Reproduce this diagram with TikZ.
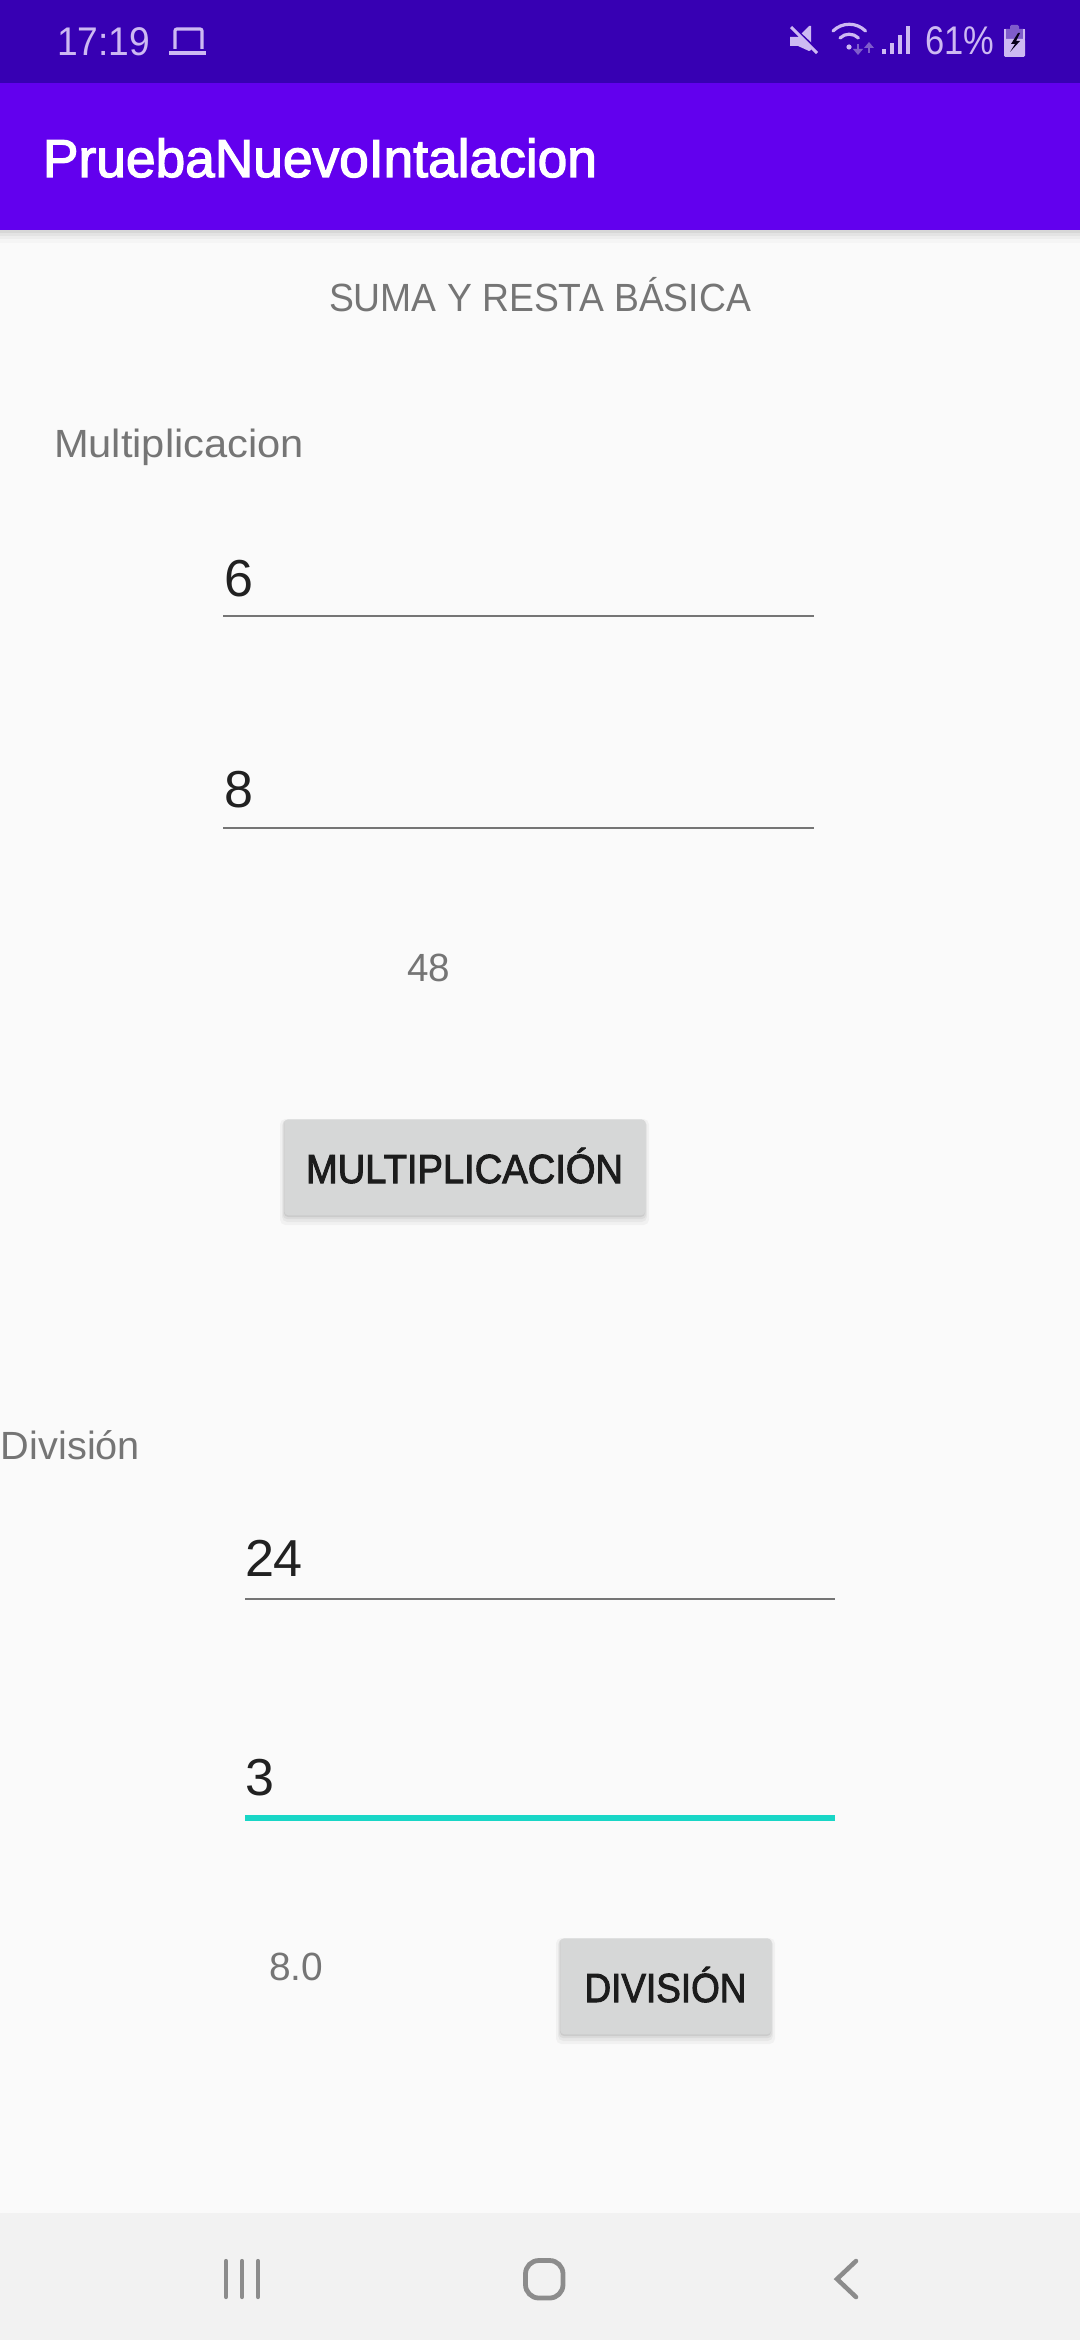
\documentclass[tikz,border=0pt]{standalone}
\usepackage{fontspec}
\setmainfont{Liberation Sans}
\newfontfamily\medfont[FakeBold=2.4]{Liberation Sans}
\newfontfamily\regfont{Liberation Sans}
\newcommand{\fitw}[2]{\resizebox{\dimexpr#1pt*3/4\relax}{\height}{#2}}
\definecolor{statusbar}{HTML}{3700B3}
\definecolor{appbar}{HTML}{6200EE}
\definecolor{page}{HTML}{FAFAFA}
\definecolor{navbar}{HTML}{F2F2F2}
\definecolor{navicon}{HTML}{8C8C8C}
\definecolor{hint}{HTML}{757575}
\definecolor{ink}{HTML}{212121}
\definecolor{btn}{HTML}{D6D7D7}
\definecolor{btnink}{HTML}{1C1C1C}
\definecolor{teal}{HTML}{18D6C6}
\definecolor{stat}{HTML}{CDB9F2}
\definecolor{statdim}{HTML}{7F5CCB}
\tikzset{
  x=0.75pt,y=-0.75pt,
  lbl/.style={inner sep=0pt,outer sep=0pt,anchor=base west},
  title/.style={lbl,text=white,font={\fontsize{40}{46}\medfont}},
  statustext/.style={lbl,text=stat,font={\fontsize{30}{36}\regfont}},
  caption/.style={lbl,text=hint,font={\fontsize{29.5}{36}\regfont}},
  smallcaption/.style={lbl,text=hint,font={\fontsize{29.5}{36}\regfont}},
  field/.style={lbl,text=ink,font={\fontsize{39}{46}\regfont}},
  btnbox/.style={fill=btn,rounded corners=3pt,draw=none},
  btntext/.style={lbl,text=btnink,font={\fontsize{30.5}{36}\medfont}},
  rule/.style={draw=hint,line width=2pt},
  activerule/.style={draw=teal,line width=4pt},
  navline/.style={draw=navicon,line cap=round,line join=round,line width=3.2pt},
  stline/.style={draw=stat,line width=2.4pt},
}
\newcommand{\btnshadow}[4]{%
  \fill[black,opacity=0.035,rounded corners=4pt] (#1-4,#2+0) rectangle (#3+4,#4+10);
  \fill[black,opacity=0.04,rounded corners=4pt] (#1-2,#2+1) rectangle (#3+2,#4+7);
  \fill[black,opacity=0.05,rounded corners=3pt] (#1-1,#2+1) rectangle (#3+1,#4+4);
  \fill[black,opacity=0.07,rounded corners=3pt] (#1,#2+1) rectangle (#3,#4+2);
}
\begin{document}
\begin{tikzpicture}
\useasboundingbox (0,0) rectangle (1080,2340);
\fill[page] (0,0) rectangle (1080,2340);
% bars
\fill[black!14!page] (0,230) rectangle (1080,233);
\fill[black!9!page] (0,233) rectangle (1080,236);
\fill[black!5!page] (0,236) rectangle (1080,239);
\fill[black!2!page] (0,239) rectangle (1080,243);
\fill[appbar] (0,83) rectangle (1080,230);
\fill[statusbar] (0,0) rectangle (1080,83);
\fill[navbar] (0,2213) rectangle (1080,2340);
% status bar left
\node[statustext] (clock) at (57,56) {\fitw{93}{17:19}};
\draw[stline,rounded corners=1.5pt] (175,49) -- (175,29) -- (202,29) -- (202,49);
\draw[draw=stat,line width=2.4pt] (169,53) -- (206,53);
% status bar right: mute
\fill[stat] (790,37) -- (798,37) -- (809,26) -- (811,26) -- (811,50) -- (809,51) -- (798,46) -- (790,46) -- cycle;
\draw[draw=statusbar,line width=2.4pt] (789,24) -- (818,51);
\draw[draw=stat,line width=2.2pt] (791,27) -- (817,53);
% wifi
\draw[stline,line cap=round] (833,31) arc[start angle=225,end angle=315,radius=23];
\draw[stline,line cap=round] (840,38) arc[start angle=225,end angle=315,radius=13];
\fill[stat] (849,47) circle[radius=2.6];
\draw[draw=statdim,line width=1.8pt] (858,44) -- (858,50);
\fill[statdim] (853,49) -- (863,49) -- (858,55) -- cycle;
\draw[draw=statdim,line width=1.8pt] (869,47) -- (869,53);
\fill[statdim] (864,48) -- (874,48) -- (869,42) -- cycle;
% signal
\fill[stat] (882,49) rectangle (885.5,54);
\fill[stat] (890,43) rectangle (893.5,54);
\fill[stat] (898,35) rectangle (901.5,54);
\fill[stat] (906,26) rectangle (909.5,54);
\node[statustext] (pct) at (925,55) {\fitw{69}{61\%}};
% battery
\fill[statdim,rounded corners=1pt] (1010,25) rectangle (1019,31);
\fill[statdim,rounded corners=1pt] (1004,29) rectangle (1025,40);
\fill[stat,rounded corners=1pt] (1004,39) rectangle (1025,57);
\fill[stat] (1004,29) rectangle (1006,40);
\fill[stat] (1023,29) rectangle (1025,40);
\fill[black!85!statusbar] (1018,33) -- (1011,44) -- (1015,44) -- (1010,52) -- (1020,41) -- (1016,41) -- (1020,33) -- cycle;
% app bar
\node[title] (apptitle) at (43,177) {\fitw{554}{PruebaNuevoIntalacion}};
% texts
\node[caption] (heading) at (329,311) {\fitw{422}{SUMA Y RESTA BÁSICA}};
\node[caption] (mult) at (54,457) {\fitw{250}{Multiplicacion}};
\node[field] (a) at (224,596) {6};
\coordinate (al) at (223,616); \coordinate (ar) at (814,616);
\draw[rule] (al) -- (ar);
\node[field] (b) at (224,807) {8};
\coordinate (bl) at (223,828); \coordinate (br) at (814,828);
\draw[rule] (bl) -- (br);
\node[smallcaption] (res1) at (407,981) {\fitw{43}{48}};
\btnshadow{284}{1119}{645}{1215}
\node[btnbox,minimum width=361*0.75pt,minimum height=96*0.75pt,inner sep=0pt,anchor=north west] (multbtn) at (284,1119) {};
\node[btntext] (multtext) at (306,1183) {\fitw{317}{MULTIPLICACIÓN}};
\node[caption] (divi) at (1,1459) {\fitw{139}{División}};
\node[field] (c) at (245,1576) {\fitw{58}{24}};
\coordinate (cl) at (245,1599); \coordinate (cr) at (835,1599);
\draw[rule] (cl) -- (cr);
\node[field] (d) at (245,1795) {3};
\coordinate (dl) at (245,1818); \coordinate (dr) at (835,1818);
\draw[activerule] (dl) -- (dr);
\node[smallcaption] (res2) at (269,1980) {\fitw{54}{8.0}};
\btnshadow{560}{1938}{771}{2034}
\node[btnbox,minimum width=211*0.75pt,minimum height=96*0.75pt,inner sep=0pt,anchor=north west] (divbtn) at (560,1938) {};
\node[btntext] (divtext) at (584.5,2002) {\fitw{162}{DIVISIÓN}};
% nav icons
\draw[navline] (226,2261) -- (226,2297);
\draw[navline] (242,2261) -- (242,2297);
\draw[navline] (258,2261) -- (258,2297);
\draw[draw=navicon,line width=3.6pt,rounded corners=10pt] (525.5,2260.5) rectangle (563,2298);
\draw[navline,line width=3.4pt,line join=miter] (856,2261) -- (837,2279) -- (856,2297);
\end{tikzpicture}
\end{document}
